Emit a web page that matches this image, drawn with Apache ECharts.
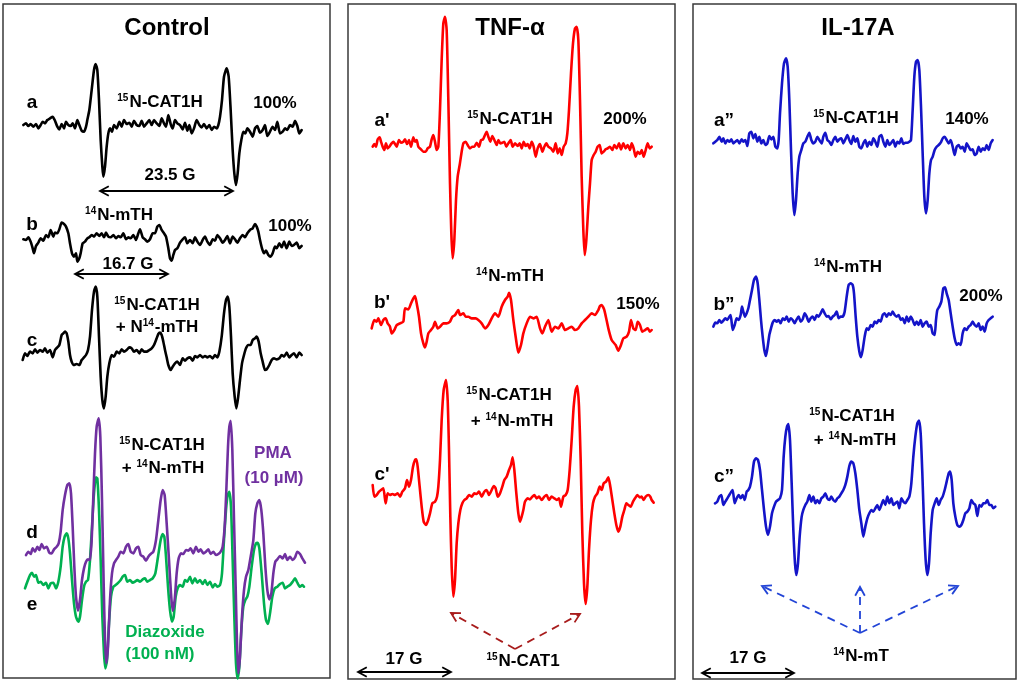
<!DOCTYPE html>
<html><head><meta charset="utf-8">
<script src="https://cdn.jsdelivr.net/npm/echarts@6/dist/echarts.min.js"></script>
<style>html,body{margin:0;padding:0;background:#fff}#c{width:1021px;height:684px}</style>
</head><body><div id="c"></div>
<script>
// ===== DATA: EPR spectra, [field position (a.u.), signal intensity (a.u.)] =====
const ctrlA = [[70,5],[78,10],[85,2],[92,8],[100,0],[108,8],[115,-5],[122,5],[128,15],[135,10],[142,20],[150,25],[158,30],[165,18],[172,0],[178,-8],[185,8],[192,-5],[198,15],[205,5],[212,2],[218,10],[225,-5],[232,20],[238,5],[245,-12],[252,-15],[258,0],[262,20],[268,50],[275,110],[282,170],[287,188],[292,170],[297,80],[302,-40],[307,-120],[310,-150],[315,-120],[320,-60],[325,-20],[330,-5],[336,-15],[342,5],[350,-5],[358,15],[365,0],[372,20],[380,8],[388,12],[395,0],[402,18],[410,5],[418,2],[425,18],[432,0],[440,10],[448,20],[455,5],[462,20],[470,10],[478,2],[485,25],[492,10],[498,0],[505,35],[512,8],[518,-5],[525,20],[532,10],[540,5],[548,-8],[555,12],[562,-12],[568,5],[575,-20],[582,-5],[590,20],[598,5],[605,-2],[612,8],[620,-5],[628,5],[635,-10],[642,0],[650,-5],[655,5],[660,30],[666,80],[672,150],[680,175],[686,150],[692,50],[698,-70],[703,-140],[708,-175],[713,-140],[718,-80],[724,-40],[730,-15],[736,-20],[742,-5],[750,-15],[758,-30],[765,-5],[772,2],[780,-18],[788,-10],[795,5],[802,-28],[810,-15],[818,0],[825,-10],[832,15],[840,-20],[848,-15],[855,-5],[862,-10],[870,5],[878,0],[885,18],[892,2],[898,-20],[905,-10]];
const ctrlB = [[70,12],[78,10],[85,18],[92,5],[98,-15],[102,-30],[108,-8],[115,2],[122,15],[130,8],[138,25],[145,18],[152,40],[160,20],[165,32],[172,30],[178,42],[185,62],[192,58],[198,50],[205,30],[210,0],[216,-30],[222,-40],[228,-30],[232,-55],[238,-45],[242,-30],[248,0],[255,5],[262,15],[268,18],[275,25],[282,20],[290,30],[298,22],[305,30],[312,18],[318,32],[325,20],[332,18],[340,25],[348,15],[355,22],[362,18],[370,30],[378,12],[385,18],[392,15],[400,25],[408,10],[415,30],[420,42],[428,18],[435,12],[442,5],[450,12],[458,30],[465,30],[472,50],[478,55],[485,40],[492,30],[498,20],[505,-15],[510,-45],[515,-52],[520,-35],[525,-20],[532,-15],[540,2],[548,12],[555,18],[562,0],[570,10],[578,0],[585,18],[592,5],[600,-5],[608,10],[615,20],[622,5],[630,-5],[638,12],[645,8],[652,25],[660,15],[668,2],[675,10],[682,22],[690,0],[698,20],[705,12],[712,2],[720,15],[728,25],[735,18],[742,30],[750,40],[758,45],[765,58],[770,50],[775,35],[780,10],[786,-15],[792,-30],[798,-22],[805,-35],[812,-40],[818,-30],[825,-10],[830,-15],[838,0],[845,-12],[852,5],[860,-15],[868,5],[875,-8],[882,-5],[890,2],[898,-15],[905,-8]];
const ctrlC = [[68,-15],[75,5],[82,-3],[90,10],[98,5],[105,17],[112,7],[120,15],[128,10],[135,20],[142,7],[150,15],[158,-7],[165,15],[172,23],[178,30],[185,60],[190,65],[195,70],[200,65],[205,40],[210,0],[215,-20],[222,-30],[230,-27],[238,-30],[245,-15],[252,-7],[258,0],[264,15],[270,55],[276,135],[282,190],[287,205],[292,175],[297,55],[302,-65],[307,-135],[312,-160],[317,-125],[322,-65],[328,-25],[335,0],[342,-5],[350,10],[358,5],[365,17],[372,10],[380,15],[388,23],[395,20],[402,10],[410,15],[418,5],[425,17],[432,10],[440,10],[448,15],[455,20],[462,30],[470,50],[475,63],[480,67],[485,60],[490,40],[495,15],[500,-7],[505,-30],[512,-45],[518,-35],[525,-25],[532,-20],[540,-30],[548,-10],[555,-17],[562,-10],[570,-7],[578,-17],[585,-3],[592,-7],[600,0],[608,-7],[615,-3],[622,-7],[630,-3],[638,-10],[645,0],[652,-7],[658,10],[665,55],[672,125],[678,165],[683,175],[688,145],[693,55],[698,-55],[704,-125],[709,-160],[714,-130],[720,-75],[726,-25],[732,0],[738,20],[745,30],[752,30],[758,45],[765,50],[770,55],[776,40],[782,5],[788,-20],[795,-45],[800,-43],[808,-30],[815,-15],[822,-10],[830,-13],[838,-10],[845,0],[852,-5],[860,7],[868,-7],[875,0],[882,5],[890,-7],[898,7],[905,0]];
const ctrlD_PMA = [[78,-10],[85,0],[92,-7],[98,10],[105,0],[112,15],[118,5],[125,23],[132,10],[140,15],[148,-3],[155,-5],[162,7],[170,15],[176,25],[182,60],[188,125],[195,170],[202,200],[208,205],[213,175],[218,75],[223,-45],[228,-135],[234,-177],[240,-145],[246,-85],[252,-50],[258,-30],[264,-23],[270,-25],[275,35],[280,165],[285,295],[290,375],[296,400],[301,345],[306,155],[311,-95],[315,-265],[319,-335],[324,-285],[330,-145],[336,-65],[342,-35],[348,-25],[355,-15],[362,0],[370,-5],[378,15],[385,23],[392,0],[400,-5],[408,10],[415,15],[422,-10],[430,-15],[438,-27],[445,-15],[452,-7],[460,0],[468,35],[475,95],[482,155],[488,185],[494,170],[500,85],[507,-25],[513,-125],[518,-177],[524,-145],[530,-65],[536,-20],[543,-5],[550,-7],[558,5],[565,3],[572,10],[580,-5],[588,15],[595,0],[602,7],[610,-5],[618,0],[625,7],[632,-7],[640,0],[648,-10],[655,-7],[662,0],[668,15],[674,75],[679,185],[684,315],[688,375],[692,393],[697,305],[702,95],[707,-105],[711,-275],[715,-365],[720,-315],[726,-195],[732,-115],[738,-75],[745,-55],[752,-15],[760,35],[766,115],[772,145],[778,155],[784,125],[790,55],[796,-45],[802,-115],[808,-143],[814,-125],[820,-65],[826,-30],[832,-23],[840,-13],[848,-20],[855,-7],[862,-25],[870,-15],[878,-25],[885,-17],[892,0],[900,-7],[907,-20],[915,-33]];
const ctrlE_Diaz = [[75,-20],[82,0],[90,20],[96,27],[102,15],[108,20],[115,-3],[122,0],[130,-10],[138,-3],[145,-20],[152,-5],[160,-3],[168,-20],[175,0],[182,45],[188,105],[194,135],[200,145],[205,130],[210,85],[216,5],[222,-65],[228,-105],[235,-120],[240,-105],[246,-55],[252,-15],[258,0],[264,5],[270,65],[276,165],[282,265],[288,313],[292,310],[297,215],[302,65],[307,-105],[312,-215],[316,-260],[321,-235],[327,-125],[333,-45],[340,-15],[347,-10],[355,-3],[362,5],[368,15],[375,20],[382,0],[390,5],[398,-3],[405,0],[412,5],[420,0],[428,7],[435,10],[442,0],[450,5],[458,10],[466,25],[474,75],[482,125],[488,143],[493,135],[498,75],[504,-15],[510,-85],[516,-120],[521,-105],[527,-45],[533,-20],[540,-10],[548,-15],[555,5],[562,0],[570,15],[577,-5],[585,10],[592,-3],[600,5],[608,-7],[615,5],[622,-10],[630,0],[638,-17],[645,-7],[652,-15],[660,-10],[666,25],[672,125],[678,215],[683,260],[688,270],[693,225],[698,65],[703,-105],[708,-245],[713,-290],[718,-255],[724,-145],[730,-75],[736,-55],[742,-45],[748,-15],[755,45],[762,95],[768,115],[773,117],[778,100],[785,25],[792,-65],[798,-115],[804,-127],[810,-95],[817,-45],[824,-20],[832,-15],[840,-7],[848,-3],[855,-20],[862,-15],[870,-10],[878,0],[885,10],[892,-3],[900,-15],[907,-10],[912,-15]];
const tnfA = [[83,0],[88,8],[93,0],[98,22],[104,28],[108,15],[113,0],[118,-10],[123,10],[128,-5],[133,0],[140,10],[145,15],[150,8],[155,0],[162,20],[168,12],[175,15],[180,22],[186,8],[192,20],[198,0],[205,28],[210,15],[215,20],[220,0],[228,-8],[235,-15],[242,-15],[248,-5],[255,0],[260,22],[265,35],[270,15],[275,-10],[280,0],[285,110],[290,260],[295,370],[300,390],[305,350],[310,140],[315,-110],[319,-260],[323,-335],[328,-280],[333,-160],[338,-90],[344,-55],[350,-15],[355,10],[362,15],[368,5],[375,-5],[382,0],[388,0],[395,12],[402,0],[408,20],[414,22],[420,35],[425,45],[430,30],[436,15],[442,32],[448,20],[455,5],[460,20],[466,10],[472,12],[478,15],[484,0],[490,10],[497,20],[503,0],[510,10],[518,2],[524,10],[530,-5],[536,15],[542,2],[548,8],[554,-5],[560,15],[566,0],[572,-30],[578,-5],[585,8],[592,-15],[598,0],[604,10],[610,0],[618,-5],[625,-15],[632,10],[638,-20],[644,-5],[650,-25],[656,0],[662,10],[667,40],[672,110],[678,220],[684,310],[690,355],[695,360],[700,320],[705,140],[710,-90],[715,-250],[719,-325],[724,-280],[730,-180],[735,-110],[740,-40],[746,-25],[752,-15],[758,0],[764,5],[770,-20],[776,-15],[782,-8],[788,-5],[795,0],[802,-10],[808,5],[815,-5],[822,10],[828,-8],[835,10],[842,-5],[848,5],[855,-10],[860,10],[866,-5],[872,-30],[878,-15],[885,-22],[890,-10],[896,-30],[902,-10],[908,10],[914,-5],[920,0]];
const tnfB = [[80,-5],[88,20],[95,15],[100,25],[108,5],[115,20],[122,25],[128,10],[135,0],[140,-20],[148,-10],[155,5],[165,10],[175,15],[180,55],[190,52],[198,70],[205,85],[210,92],[215,70],[222,30],[228,-20],[235,-50],[240,-62],[245,-45],[250,-20],[258,-10],[265,0],[270,15],[278,-5],[285,0],[295,10],[305,10],[315,15],[322,30],[330,35],[340,50],[345,35],[355,40],[362,30],[370,30],[380,25],[392,25],[400,20],[410,10],[420,-5],[430,5],[440,25],[450,40],[460,30],[470,60],[480,80],[488,90],[492,102],[498,80],[505,20],[512,-30],[520,-78],[528,-55],[535,-20],[545,10],[555,30],[565,25],[575,30],[585,-5],[592,-20],[600,0],[610,20],[620,-15],[630,0],[640,-5],[650,10],[660,-10],[670,-5],[680,0],[690,-10],[700,-5],[710,10],[720,20],[730,30],[740,40],[750,35],[760,50],[765,62],[770,65],[778,50],[790,-5],[800,-40],[812,-55],[820,-72],[828,-55],[835,-35],[845,-30],[852,-15],[858,20],[865,-5],[872,-10],[878,15],[885,5],[892,-15],[900,-10],[908,-5],[915,-15],[920,-10]];
const tnfC = [[83,30],[88,-5],[95,0],[102,10],[108,15],[115,20],[122,-25],[128,5],[135,0],[142,3],[150,0],[158,5],[165,-5],[172,10],[180,20],[186,45],[192,25],[198,45],[204,85],[210,105],[214,107],[218,85],[224,25],[230,-35],[236,-80],[243,-90],[248,-80],[255,-55],[262,-25],[270,-20],[276,-5],[280,25],[285,105],[290,225],[296,315],[303,345],[308,285],[312,135],[316,-65],[320,-215],[325,-305],[330,-255],[335,-145],[340,-85],[346,-45],[352,-25],[358,-15],[365,-10],[372,0],[380,-5],[388,5],[395,3],[402,10],[410,-5],[418,10],[425,15],[432,0],[440,15],[446,27],[452,20],[458,-5],[465,5],[472,25],[478,45],[485,55],[492,75],[498,90],[503,113],[508,75],[514,5],[520,-55],[525,-80],[530,-65],[535,-45],[540,-20],[548,-10],[555,-13],[562,-5],[568,0],[575,-10],[582,-5],[590,-15],[598,-5],[605,0],[612,-15],[620,-5],[628,-10],[635,-15],[642,-10],[648,-35],[655,-5],[662,0],[668,15],[674,75],[680,165],[686,265],[692,315],[697,327],[702,265],[707,105],[712,-115],[717,-265],[722,-327],[727,-275],[732,-165],[738,-75],[744,-25],[750,-5],[757,5],[764,25],[770,15],[776,35],[783,40],[790,53],[796,25],[802,-15],[808,-55],[814,-90],[820,-110],[826,-95],[832,-65],[838,-45],[844,-25],[850,-30],[857,-35],[864,-20],[870,-10],[877,0],[884,-7],[890,-5],[896,-15],[902,-5],[910,0],[916,-5],[920,-15],[926,-23]];
const ilA = [[70,-5],[76,0],[82,5],[88,15],[95,0],[100,10],[106,-5],[112,5],[118,0],[124,7],[130,-5],[136,0],[142,5],[148,-5],[155,7],[160,0],[166,5],[172,-13],[178,25],[184,30],[190,10],[196,23],[202,0],[208,15],[214,-5],[220,5],[226,-10],[232,-5],[238,17],[244,7],[250,15],[256,-15],[262,-20],[266,5],[270,85],[276,175],[282,235],[288,250],[293,225],[298,125],[303,-25],[308,-155],[313,-220],[318,-175],[323,-95],[328,-45],[334,-25],[340,-5],[346,0],[352,15],[358,27],[364,5],[370,-5],[376,0],[382,15],[388,5],[395,-5],[400,15],[406,27],[412,5],[418,0],[424,-10],[430,5],[436,15],[442,0],[448,7],[454,10],[460,-5],[466,7],[472,20],[478,5],[484,-7],[490,17],[496,0],[502,10],[508,-15],[514,-20],[520,-5],[526,5],[532,-15],[538,0],[544,-10],[550,10],[556,0],[562,-15],[568,15],[574,20],[580,0],[586,-15],[592,5],[598,-10],[604,-3],[610,5],[616,-15],[622,0],[628,-5],[634,10],[640,-7],[646,-3],[652,-3],[658,0],[663,5],[668,95],[673,195],[678,240],[683,245],[688,215],[693,105],[698,-35],[703,-165],[708,-215],[713,-175],[718,-95],[723,-55],[728,-45],[734,-25],[740,-15],[746,-10],[752,-3],[758,10],[764,15],[770,5],[776,-5],[782,5],[788,-15],[794,-40],[800,-15],[806,-10],[812,-20],[818,-15],[824,-30],[830,-5],[836,-15],[842,-25],[848,-23],[854,-40],[860,-35],[866,-15],[872,-30],[878,-20],[884,-25],[890,-10],[896,-25],[902,-5],[908,5]];
const ilB = [[70,-10],[76,2],[82,0],[88,10],[94,2],[100,8],[106,15],[112,10],[118,20],[122,25],[128,-20],[134,-5],[140,15],[146,10],[152,25],[156,50],[160,35],[165,20],[170,30],[175,45],[180,70],[186,100],[192,130],[198,140],[203,120],[208,70],[213,10],[218,-40],[223,-80],[228,-98],[233,-70],[238,-35],[243,-15],[248,2],[254,10],[260,5],[266,10],[272,0],[278,15],[284,10],[290,20],[296,5],[302,15],[308,10],[314,0],[320,12],[326,20],[332,5],[338,12],[344,30],[350,20],[356,5],[362,15],[368,20],[374,10],[380,25],[386,20],[392,30],[398,42],[404,30],[410,20],[416,22],[422,12],[428,20],[434,25],[440,35],[446,15],[452,20],[458,20],[464,35],[470,80],[476,115],[482,120],[488,115],[492,90],[497,20],[502,-40],[508,-85],[513,-102],[518,-80],[524,-40],[530,-15],[536,-20],[542,-5],[548,-10],[554,5],[560,0],[566,10],[572,5],[578,25],[584,30],[590,20],[596,30],[602,25],[608,35],[614,25],[620,20],[626,25],[632,10],[638,15],[644,0],[650,20],[656,5],[662,20],[668,10],[674,-5],[680,5],[686,-5],[692,10],[698,-10],[704,0],[710,5],[716,-10],[722,-5],[728,-30],[734,-35],[738,10],[742,40],[748,50],[754,65],[760,105],[765,108],[770,90],[776,70],[782,30],[788,-10],[794,-45],[800,-65],[806,-60],[812,-65],[818,-30],[824,-15],[830,-20],[836,-10],[842,-5],[848,5],[854,-5],[860,-10],[866,0],[872,-20],[878,-10],[884,-25],[890,0],[896,10],[902,15],[908,20]];
const ilC = [[75,0],[82,5],[88,20],[94,25],[100,-5],[106,5],[112,15],[118,25],[124,35],[128,40],[134,0],[140,15],[146,25],[152,15],[158,25],[164,10],[170,35],[175,40],[180,50],[186,80],[192,125],[198,135],[204,130],[210,100],[216,40],[222,-20],[228,-70],[234,-95],[240,-70],[246,-30],[252,-10],[258,5],[264,10],[270,15],[276,40],[281,140],[286,200],[291,230],[295,238],[300,190],[305,60],[310,-80],[315,-180],[319,-215],[324,-180],[329,-100],[335,-40],[340,-20],[346,-5],[352,5],[358,25],[364,5],[370,20],[376,0],[382,10],[388,0],[394,15],[400,20],[406,30],[412,15],[418,10],[424,20],[430,10],[436,5],[442,15],[448,20],[454,30],[460,40],[466,55],[472,80],[478,112],[484,125],[490,120],[496,90],[502,40],[508,-20],[514,-60],[520,-100],[526,-70],[532,-45],[538,-30],[544,-20],[550,-25],[556,-15],[562,-5],[568,-20],[574,-5],[580,10],[586,-5],[592,20],[598,0],[604,15],[610,-5],[616,0],[622,5],[628,-15],[634,15],[640,5],[646,0],[652,10],[658,20],[664,60],[670,140],[676,200],[682,240],[687,248],[692,210],[697,90],[702,-60],[707,-170],[712,-215],[717,-180],[722,-90],[728,-20],[734,0],[740,15],[746,-5],[752,10],[758,20],[764,40],[770,65],[776,90],[780,95],[785,70],[790,0],[796,-40],[802,-65],[808,-70],[814,-65],[820,-50],[826,-30],[832,-25],[838,-15],[844,10],[850,0],[856,-5],[862,-38],[868,-5],[874,-10],[880,0],[886,0],[892,10],[898,-5],[904,-5],[910,-15],[916,-10]];

// ===== LAYOUT (pixel placement of each trace's plot box) =====
const UNITS_PER_PX = 3;
const PANEL_W = 330;
const C_BLACK = '#000000', C_RED = '#ff0000', C_BLUE = '#1414c8', C_PURPLE = '#7030a0', C_GREEN = '#00b050';
const traces = [
  { data: ctrlA, color: C_BLACK, left: 0, baseY: 126.7, top: 50, bottom: 195 },
  { data: ctrlB, color: C_BLACK, left: 0, baseY: 243.3, top: 215, bottom: 270 },
  { data: ctrlC, color: C_BLACK, left: 0, baseY: 355, top: 280, bottom: 415 },
  { data: ctrlE_Diaz, color: C_GREEN, left: 0, baseY: 581.7, top: 405, bottom: 684 },
  { data: ctrlD_PMA, color: C_PURPLE, left: 0, baseY: 551.7, top: 405, bottom: 684 },
  { data: tnfA, color: C_RED, left: 345, baseY: 146.7, top: 10, bottom: 265 },
  { data: tnfB, color: C_RED, left: 345, baseY: 326.7, top: 285, bottom: 360 },
  { data: tnfC, color: C_RED, left: 345, baseY: 495, top: 370, bottom: 610 },
  { data: ilA, color: C_BLUE, left: 690, baseY: 141.7, top: 50, bottom: 225 },
  { data: ilB, color: C_BLUE, left: 690, baseY: 323.3, top: 265, bottom: 365 },
  { data: ilC, color: C_BLUE, left: 690, baseY: 503.3, top: 410, bottom: 585 }
];

const grids = [], xAxes = [], yAxes = [], series = [];
traces.forEach((t, i) => {
  grids.push({ left: t.left, top: t.top, width: PANEL_W, height: t.bottom - t.top, containLabel: false });
  xAxes.push({ type: 'value', gridIndex: i, min: 0, max: PANEL_W * UNITS_PER_PX, show: false });
  yAxes.push({ type: 'value', gridIndex: i, min: (t.baseY - t.bottom) * UNITS_PER_PX, max: (t.baseY - t.top) * UNITS_PER_PX, show: false });
  series.push({ type: 'line', xAxisIndex: i, yAxisIndex: i, data: t.data, showSymbol: false, clip: false,
    smooth: 0.2, lineStyle: { color: t.color, width: 2.6, join: 'round', cap: 'round' }, silent: true });
});

// ===== ANNOTATIONS =====
const FONT = '"Liberation Sans", Arial, Helvetica, sans-serif';
const rich = { s: { fontSize: 10, fontWeight: 'bold', fontFamily: FONT, verticalAlign: 'top', padding: [0, 1, 0, 0] } };
function txt(text, x, y, size, color) {
  return { type: 'text', silent: true, style: { text: text, x: x, y: y, fill: color || '#000', fontSize: size || 17,
    fontWeight: 'bold', fontFamily: FONT, textAlign: 'center', textVerticalAlign: 'middle', rich: rich } };
}
function head(x1, y1, x2, y2, color, w) {
  const th = Math.atan2(y2 - y1, x2 - x1), L = 10, a = 0.5;
  return { type: 'polyline', silent: true, shape: { points: [[x2 - L * Math.cos(th - a), y2 - L * Math.sin(th - a)], [x2, y2], [x2 - L * Math.cos(th + a), y2 - L * Math.sin(th + a)]] },
    style: { stroke: color, lineWidth: w, fill: null } };
}
function arrow(x1, y1, x2, y2, color, w, dashed, both) {
  const out = [{ type: 'line', silent: true, shape: { x1: x1, y1: y1, x2: x2, y2: y2 }, style: { stroke: color, lineWidth: w, lineDash: dashed ? [8, 6] : null } }];
  out.push(head(x1, y1, x2, y2, color, w));
  if (both) out.push(head(x2, y2, x1, y1, color, w));
  return out;
}
function panel(x1, y1, x2, y2) {
  return { type: 'rect', silent: true, shape: { x: x1, y: y1, width: x2 - x1, height: y2 - y1 }, style: { stroke: '#3a3a3a', lineWidth: 1.5, fill: null } };
}
const DRED = '#a81c1c', DBLUE = '#2244d6';
const graphics = [
  panel(3, 4, 330, 678), panel(348, 4, 675, 679), panel(693, 4, 1016, 679),
  txt('Control', 167, 28, 24), txt('TNF-α', 510, 28, 24), txt('IL-17A', 858, 28, 24),
  // Control
  txt('a', 32, 103, 19), txt('{s|15}N-CAT1H', 160, 102), txt('100%', 275, 103),
  txt('23.5 G', 170, 175),
  ...arrow(100, 191, 233, 191, '#000', 1.8, false, true),
  txt('b', 32, 225, 19), txt('{s|14}N-mTH', 119, 215), txt('100%', 290, 226),
  txt('16.7 G', 128, 264),
  ...arrow(75, 274, 168, 274, '#000', 1.8, false, true),
  txt('c', 32, 341, 19), txt('{s|15}N-CAT1H', 157, 305), txt('+ N{s|14}-mTH', 157, 327),
  txt('{s|15}N-CAT1H', 162, 445), txt('+ {s|14}N-mTH', 163, 468),
  txt('PMA', 273, 453, 17, C_PURPLE), txt('(10 µM)', 274, 478, 17, C_PURPLE),
  txt('d', 32, 533, 19), txt('e', 32, 605, 19),
  txt('Diazoxide', 165, 632, 17, C_GREEN), txt('(100 nM)', 160, 654, 17, C_GREEN),
  // TNF-alpha
  txt("a'", 382, 121, 19), txt('{s|15}N-CAT1H', 510, 119), txt('200%', 625, 119),
  txt('{s|14}N-mTH', 510, 276), txt("b'", 382, 303, 19), txt('150%', 638, 304),
  txt('{s|15}N-CAT1H', 509, 395), txt('+ {s|14}N-mTH', 512, 421), txt("c'", 382, 475, 19),
  ...arrow(515, 649, 451, 613, DRED, 1.8, true, false),
  ...arrow(515, 649, 580, 614, DRED, 1.8, true, false),
  txt('{s|15}N-CAT1', 523, 661), txt('17 G', 404, 659),
  ...arrow(358, 672, 451, 672, '#000', 1.8, false, true),
  // IL-17A
  txt('a\u201D', 724, 121, 19), txt('{s|15}N-CAT1H', 856, 118), txt('140%', 967, 119),
  txt('{s|14}N-mTH', 848, 267), txt('b\u201D', 724, 305, 19), txt('200%', 981, 296),
  txt('{s|15}N-CAT1H', 852, 416), txt('+ {s|14}N-mTH', 855, 440), txt('c\u201D', 724, 477, 19),
  ...arrow(860, 633, 762, 586, DBLUE, 1.8, true, false),
  ...arrow(860, 633, 860, 587, DBLUE, 1.8, true, false),
  ...arrow(860, 633, 958, 586, DBLUE, 1.8, true, false),
  txt('{s|14}N-mT', 861, 656), txt('17 G', 748, 658),
  ...arrow(702, 673, 794, 673, '#000', 1.8, false, true)
];

const chart = echarts.init(document.getElementById('c'), null, { renderer: 'canvas' });
chart.setOption({
  animation: false,
  backgroundColor: '#ffffff',
  grid: grids, xAxis: xAxes, yAxis: yAxes, series: series,
  graphic: graphics
});
</script></body></html>
